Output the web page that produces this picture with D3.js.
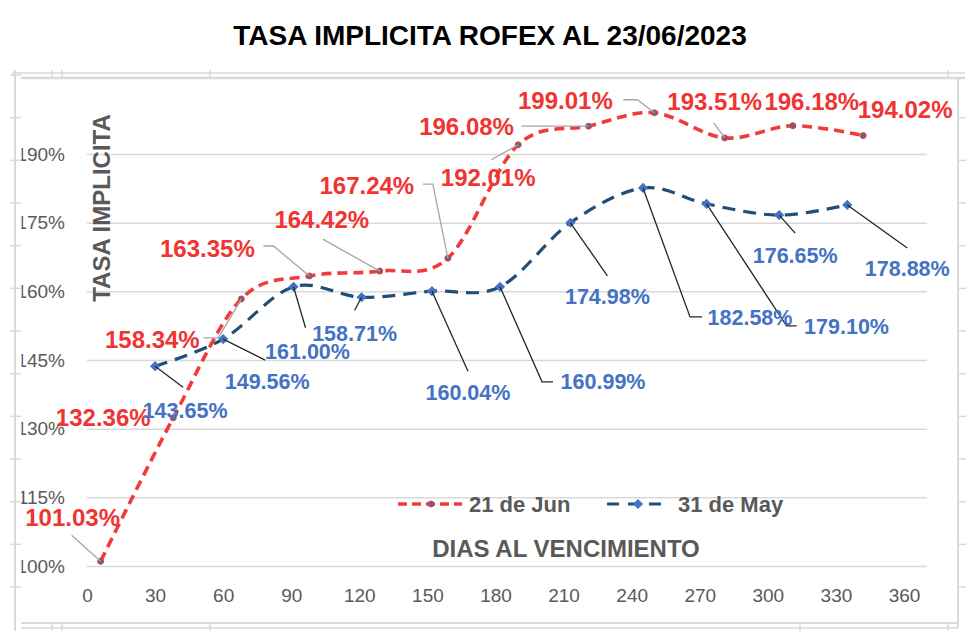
<!DOCTYPE html>
<html>
<head>
<meta charset="utf-8">
<script src="https://cdn.jsdelivr.net/npm/d3@7/dist/d3.min.js"></script>
<style>
  html, body { margin: 0; padding: 0; background: #fff; }
  svg { display: block; }
  text { font-family: "Liberation Sans", Arial, sans-serif; }
</style>
</head>
<body>
<svg id="chart" width="980" height="635"></svg>
<script>
// ---------- data ----------
const title = "TASA IMPLICITA ROFEX AL 23/06/2023";
const yTitle = "TASA IMPLICITA";
const xTitle = "DIAS AL VENCIMIENTO";
const seriesNames = ["21 de Jun", "31 de May"];
const days21 = [6, 38, 68, 98, 129, 159, 190, 221, 250, 281, 311, 342];
const rate21 = [101.03, 132.36, 158.34, 163.35, 164.42, 167.24, 192.01, 196.08, 199.01, 193.51, 196.18, 194.02];
const days31 = [30, 60, 91, 121, 152, 182, 213, 245, 273, 305, 335];
const rate31 = [143.65, 149.56, 161.00, 158.71, 160.04, 160.99, 174.98, 182.58, 179.10, 176.65, 178.88];
const xTicks = [0, 30, 60, 90, 120, 150, 180, 210, 240, 270, 300, 330, 360];
const yTicks = [100, 115, 130, 145, 160, 175, 190];

// ---------- layout (pixel offsets of data labels relative to their point) ----------
const lab21 = [[-28,-44],[-70,0],[-89,41],[-102,-27],[-58,-51],[-81,-73],[-30,33],[-122,0],[-89,-12],[-10,-36],[19,-24],[42,-26]];
const lead21 = [[[-29,-26]],[],[[-23,39],[-38,39]],[[-36,-30],[-46,-30]],[[-57,-32]],[[-15,-74],[-25,-74]],[[-27,15]],[[-67,0]],[[-17,-13],[-31,-13]],[[-11,-15]],[],[]];
const lab31 = [[30,44],[44,42],[14,65],[-7,36],[36,101],[103,95],[37,74],[107,130],[140,123],[16,40],[60,64]];
const lead31 = [[[28,21]],[[42,21]],[[12,41]],[[-7,13]],[[36,80]],[[42,95],[53,95]],[[37,53]],[[47,129],[59,129]],[[80,122],[90,122]],[[16,18]],[[60,43]]];

const red = "#f23a3a", redLabel = "#ef3431", navy = "#1f4e79", blue = "#4472c4", axisGray = "#595959", grid = "#d9d9d9";

const svg = d3.select("#chart");
const x = d3.scaleLinear().domain([0, 360]).range([87, 904]);
const y = d3.scaleLinear().domain([100, 190]).range([566, 154]);
const plotRight = 927;

// ---------- outer frame ----------
const frame = svg.append("g").attr("stroke", grid).attr("fill", "none");
frame.append("line").attr("x1", 15).attr("x2", 15).attr("y1", 70).attr("y2", 631).attr("stroke-width", 2);
frame.append("line").attr("x1", 12).attr("x2", 965).attr("y1", 73).attr("y2", 73).attr("stroke-width", 1.5);
frame.append("line").attr("x1", 21).attr("x2", 965).attr("y1", 78).attr("y2", 78).attr("stroke-width", 2.5);
frame.append("line").attr("x1", 958).attr("x2", 958).attr("y1", 78).attr("y2", 628).attr("stroke-width", 2);
frame.append("line").attr("x1", 21).attr("x2", 958).attr("y1", 623).attr("y2", 623).attr("stroke-width", 2);
frame.append("line").attr("x1", 21).attr("x2", 958).attr("y1", 628).attr("y2", 628).attr("stroke-width", 1.5);
d3.range(13).forEach(i => {
  const yy = 75 + i * 42.67;
  frame.append("line").attr("x1", 10).attr("x2", 21).attr("y1", yy).attr("y2", yy).attr("stroke-width", 1.5);
  if (i > 0) frame.append("line").attr("x1", 958).attr("x2", 966).attr("y1", yy).attr("y2", yy).attr("stroke-width", 1.5);
});
[52, 62, 210, 948].forEach(xx => {
  frame.append("line").attr("x1", xx).attr("x2", xx).attr("y1", 70).attr("y2", 77).attr("stroke-width", 1.5);
});
[52, 62, 210, 800, 948].forEach(xx => {
  frame.append("line").attr("x1", xx).attr("x2", xx).attr("y1", 623).attr("y2", 631).attr("stroke-width", 1.5);
});

// ---------- gridlines ----------
const gridG = svg.append("g").attr("transform", "translate(87,0)")
  .call(d3.axisLeft(y).tickValues(yTicks).tickSize(-(plotRight - 87)).tickFormat(""));
gridG.select(".domain").remove();
gridG.selectAll(".tick line").attr("stroke", grid).attr("stroke-width", 1.5);

// ---------- y axis labels (left edge clipped, like the original) ----------
svg.append("clipPath").attr("id", "yclip").append("rect")
  .attr("x", 21.5).attr("y", 0).attr("width", 200).attr("height", 635);
const yAxisOuter = svg.append("g").attr("clip-path", "url(#yclip)");
const yAxisG = yAxisOuter.append("g").attr("transform", "translate(87,0)")
  .call(d3.axisLeft(y).tickValues(yTicks).tickSize(0).tickPadding(22).tickFormat(d => d + "%"));
yAxisG.select(".domain").remove();
yAxisG.selectAll("text").attr("fill", axisGray).style("font-size", "19px")
  .style("font-family", "'Liberation Sans', Arial, sans-serif");

// ---------- x axis labels ----------
const xAxisG = svg.append("g").attr("transform", "translate(0,566)")
  .call(d3.axisBottom(x).tickValues(xTicks).tickSize(0));
xAxisG.select(".domain").remove();
xAxisG.selectAll("text").attr("y", 29).attr("dy", "0.35em").attr("fill", axisGray)
  .style("font-size", "19px").style("font-family", "'Liberation Sans', Arial, sans-serif");

// ---------- titles ----------
svg.append("text").attr("x", 490).attr("y", 45).attr("text-anchor", "middle")
  .attr("font-weight", "bold").attr("font-size", 28).attr("fill", "#000").text(title);
svg.append("text").attr("transform", "translate(110,208) rotate(-90)").attr("text-anchor", "middle")
  .attr("font-weight", "bold").attr("font-size", 24).attr("fill", axisGray).text(yTitle);
svg.append("text").attr("x", 566).attr("y", 556.5).attr("text-anchor", "middle")
  .attr("font-weight", "bold").attr("font-size", 24).attr("fill", axisGray).text(xTitle);

// ---------- series ----------
const d21 = days21.map((d, i) => ({ d, v: rate21[i] }));
const d31 = days31.map((d, i) => ({ d, v: rate31[i] }));
const line = d3.line().x(p => x(p.d)).y(p => y(p.v)).curve(d3.curveCardinal.tension(0));

svg.append("path").datum(d31).attr("d", line).attr("fill", "none")
  .attr("stroke", navy).attr("stroke-width", 3.2).attr("stroke-dasharray", "13,8");
svg.append("path").datum(d21).attr("d", line).attr("fill", "none")
  .attr("stroke", red).attr("stroke-width", 3.6).attr("stroke-dasharray", "10,6");

const diamond = d3.symbol().type(d3.symbolSquare).size(52);
svg.append("g").selectAll("path").data(d31).join("path")
  .attr("transform", p => `translate(${x(p.d)},${y(p.v)}) rotate(45)`).attr("d", diamond).attr("fill", blue);
svg.append("g").selectAll("circle").data(d21).join("circle")
  .attr("cx", p => x(p.d)).attr("cy", p => y(p.v)).attr("r", 3)
  .attr("fill", "#5f6490").attr("stroke", red).attr("stroke-width", 1);

// ---------- leader lines ----------
function leaders(data, lead, color) {
  const g = svg.append("g").attr("fill", "none").attr("stroke", color).attr("stroke-width", 1.3);
  data.forEach((p, i) => {
    if (!lead[i].length) return;
    const px = x(p.d), py = y(p.v);
    const pts = [[px, py]].concat(lead[i].map(o => [px + o[0], py + o[1]]));
    g.append("path").attr("d", d3.line()(pts));
  });
}
leaders(d21, lead21, "#a6a6a6");
leaders(d31, lead31, "#262626");

// ---------- data labels ----------
svg.append("g").selectAll("text").data(d21).join("text")
  .attr("x", (p, i) => x(p.d) + lab21[i][0]).attr("y", (p, i) => y(p.v) + lab21[i][1])
  .attr("dy", "0.35em").attr("text-anchor", "middle").attr("font-weight", "bold")
  .attr("font-size", 24).attr("fill", redLabel).text(p => p.v.toFixed(2) + "%");
svg.append("g").selectAll("text").data(d31).join("text")
  .attr("x", (p, i) => x(p.d) + lab31[i][0]).attr("y", (p, i) => y(p.v) + lab31[i][1])
  .attr("dy", "0.35em").attr("text-anchor", "middle").attr("font-weight", "bold")
  .attr("font-size", 21.5).attr("fill", blue).text(p => p.v.toFixed(2) + "%");

// ---------- legend ----------
const lg = svg.append("g");
const ly = 504;
lg.append("line").attr("x1", 398).attr("x2", 462).attr("y1", ly).attr("y2", ly)
  .attr("stroke", red).attr("stroke-width", 3.6).attr("stroke-dasharray", "9,5");
lg.append("circle").attr("cx", 431).attr("cy", ly).attr("r", 3).attr("fill", "#5f6490").attr("stroke", red);
lg.append("text").attr("x", 469).attr("y", ly).attr("dy", "0.35em").attr("font-weight", "bold")
  .attr("font-size", 22).attr("fill", axisGray).text(seriesNames[0]);
lg.append("line").attr("x1", 607).attr("x2", 662).attr("y1", ly).attr("y2", ly)
  .attr("stroke", navy).attr("stroke-width", 3.2).attr("stroke-dasharray", "12,9");
lg.append("path").attr("transform", `translate(638,${ly}) rotate(45)`).attr("d", diamond).attr("fill", blue);
lg.append("text").attr("x", 678).attr("y", ly).attr("dy", "0.35em").attr("font-weight", "bold")
  .attr("font-size", 22).attr("fill", axisGray).text(seriesNames[1]);
</script>
</body>
</html>
